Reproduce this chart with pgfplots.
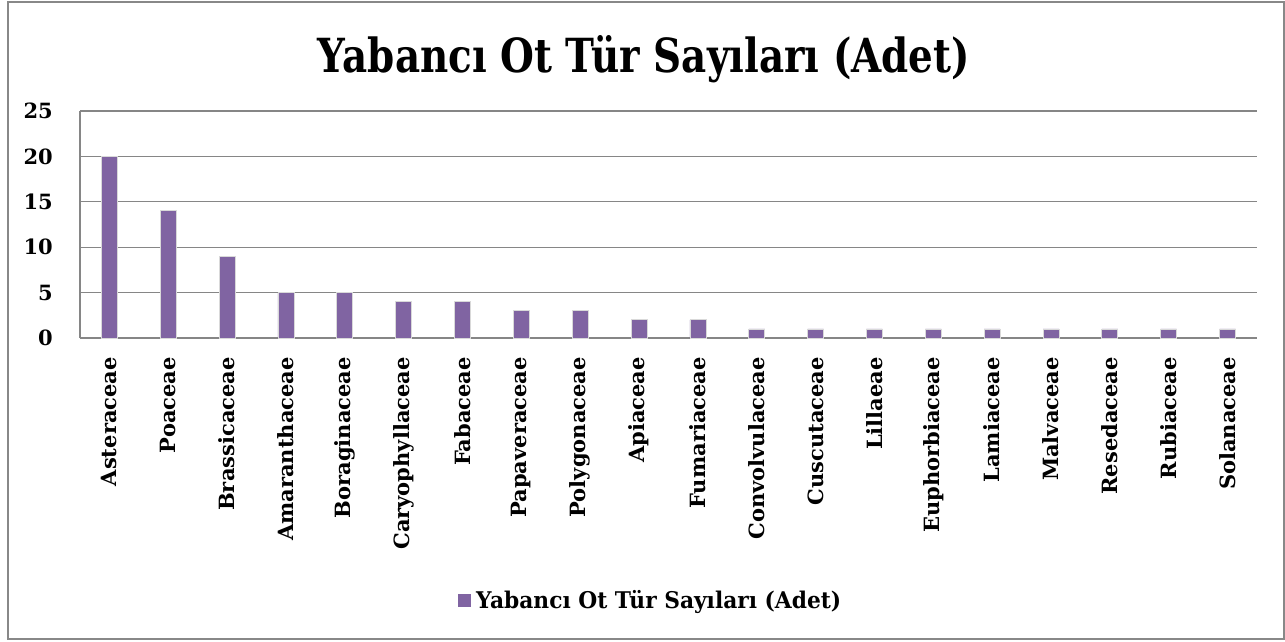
\documentclass[border=0pt]{standalone}
\usepackage{fontspec}
\setmainfont{DejaVu Serif}
\usepackage{graphicx}
\usepackage{pgfplots}
\pgfplotsset{compat=1.18}
\definecolor{barcol}{RGB}{128,100,162}
\definecolor{gridcol}{RGB}{134,134,134}
\definecolor{framecol}{RGB}{136,136,136}
\begin{document}
\begin{tikzpicture}[x=1pt,y=1pt]
\path (0,0) rectangle (1285,641);
\draw[framecol, line width=2pt] (8,2) rectangle (1284,639);
\node[anchor=base, inner sep=0pt] at (644,568) {\resizebox{652pt}{\height}{\fontsize{47}{47}\selectfont\bfseries Yabancı Ot Tür Sayıları (Adet)}};
\begin{axis}[
  at={(80pt,303pt)}, anchor=south west,
  scale only axis, width=1177pt, height=227pt,
  xmin=-0.5, xmax=19.5, ymin=0, ymax=25,
  ybar, bar width=16pt, bar shift=0pt,
  ytick={0,5,10,15,20,25},
  yticklabels={0,5,10,15,20,25},
  xtick=data,
  xticklabels={Asteraceae,Poaceae,Brassicaceae,Amaranthaceae,Boraginaceae,Caryophyllaceae,Fabaceae,Papaveraceae,Polygonaceae,Apiaceae,Fumariaceae,Convolvulaceae,Cuscutaceae,Lillaeae,Euphorbiaceae,Lamiaceae,Malvaceae,Resedaceae,Rubiaceae,Solanaceae},
  major tick length=0pt,
  axis lines=left,
  x axis line style={draw=none},
  y axis line style={gridcol, line width=1.3pt, -},
  ymajorgrids, grid style={gridcol, line width=1.3pt},
  yticklabel style={font=\fontsize{21}{21}\selectfont\bfseries, inner sep=0pt},
  yticklabel shift=27pt,
  xticklabel style={font=\fontsize{21}{21}\selectfont\bfseries, rotate=90, anchor=east, inner sep=0pt},
  xticklabel shift=19pt,
  legend style={at={(0.485,-1.154)}, anchor=center, draw=none, fill=none,
    font=\fontsize{23}{23}\selectfont\bfseries, inner sep=0pt},
  legend image code/.code={\fill[barcol] (0pt,-6pt) rectangle (12pt,6pt);},
]
\addplot[fill=barcol, draw=black!15, line width=0.8pt] coordinates {
(0,20) (1,14) (2,9) (3,5) (4,5) (5,4) (6,4) (7,3) (8,3) (9,2)
(10,2) (11,1) (12,1) (13,1) (14,1) (15,1) (16,1) (17,1) (18,1) (19,1)};
\addlegendentry{\hspace{3pt}\resizebox{365pt}{\height}{Yabancı Ot Tür Sayıları (Adet)}}
\end{axis}
\end{tikzpicture}
\end{document}
